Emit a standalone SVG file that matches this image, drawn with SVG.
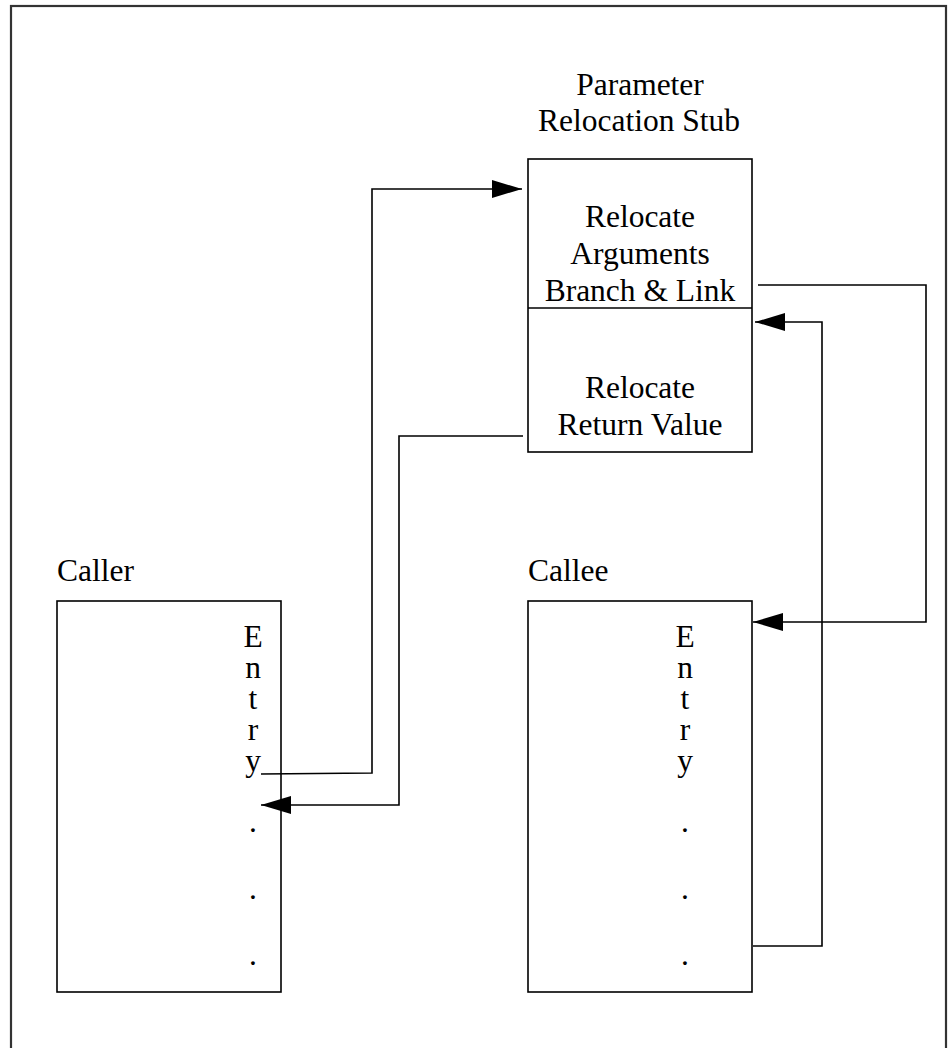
<svg xmlns="http://www.w3.org/2000/svg" width="948" height="1048" viewBox="0 0 948 1048">
<style>
.t{font-family:"Liberation Serif","Times New Roman",serif;font-size:31.5px;fill:#000}
.m{text-anchor:middle}
.box{fill:none;stroke:#000;stroke-width:1.6}
.ln{fill:none;stroke:#000;stroke-width:1.6}
</style>
<defs>
<marker id="ah" markerWidth="30" markerHeight="18" refX="30" refY="9" orient="auto" markerUnits="userSpaceOnUse">
<path d="M0,0 L30,9 L0,18 Z" fill="#000"/>
</marker>
</defs>
<rect width="948" height="1048" fill="#fff"/>
<rect x="11" y="6" width="935" height="1080" fill="none" stroke="#333" stroke-width="2.2"/>

<g id="stub">
<text class="t m" x="640" y="95">Parameter</text>
<text class="t m" x="639" y="131">Relocation Stub</text>
<rect class="box" x="528" y="159" width="224" height="293"/>
<line class="box" x1="528" y1="308" x2="752" y2="308"/>
<text class="t m" x="640" y="227">Relocate</text>
<text class="t m" x="640" y="264">Arguments</text>
<text class="t m" x="640" y="301">Branch &amp; Link</text>
<text class="t m" x="640" y="398">Relocate</text>
<text class="t m" x="640" y="435">Return Value</text>
</g>

<g id="caller">
<text class="t" x="57" y="581">Caller</text>
<rect class="box" x="57" y="601" width="224" height="391"/>
<text class="t m" x="253" y="647">E<tspan x="253" dy="31">n</tspan><tspan x="253" dy="31">t</tspan><tspan x="253" dy="31">r</tspan><tspan x="253" dy="31">y</tspan><tspan x="253" dy="61">.</tspan><tspan x="253" dy="67">.</tspan><tspan x="253" dy="66">.</tspan></text>
</g>

<g id="callee">
<text class="t" x="528" y="581">Callee</text>
<rect class="box" x="528" y="601" width="224" height="391"/>
<text class="t m" x="685" y="647">E<tspan x="685" dy="31">n</tspan><tspan x="685" dy="31">t</tspan><tspan x="685" dy="31">r</tspan><tspan x="685" dy="31">y</tspan><tspan x="685" dy="61">.</tspan><tspan x="685" dy="67">.</tspan><tspan x="685" dy="66">.</tspan></text>
</g>

<g id="connectors">
<polyline class="ln" points="261,774 372,773 372,189 522,189" marker-end="url(#ah)"/>
<polyline class="ln" points="523,436 399,436 399,805 261,805" marker-end="url(#ah)"/>
<polyline class="ln" points="758,285 926,285 926,622 753,622" marker-end="url(#ah)"/>
<polyline class="ln" points="753,946 822,946 822,322 755,322" marker-end="url(#ah)"/>
</g>
</svg>
